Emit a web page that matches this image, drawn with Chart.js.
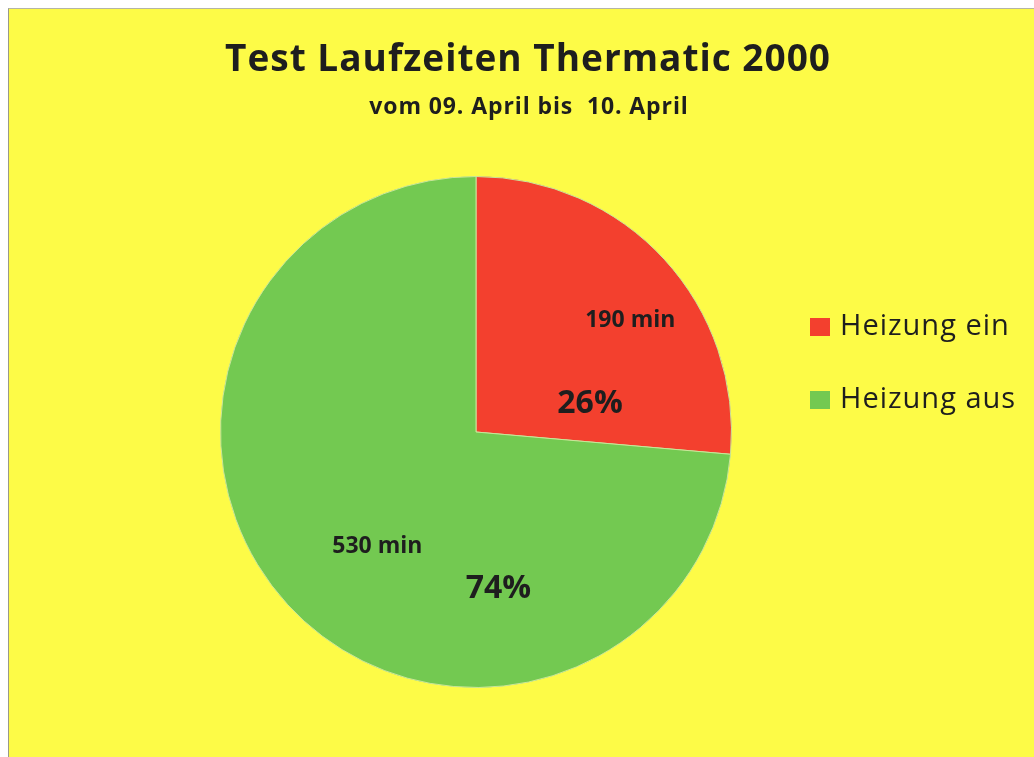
<!DOCTYPE html>
<html>
<head>
<meta charset="utf-8">
<script src="https://cdn.jsdelivr.net/npm/chart.js@4.4.1/dist/chart.umd.min.js"></script>
<style>
  html, body { margin: 0; padding: 0; background: #ffffff; }
  #frame {
    position: absolute; left: 8px; top: 8px; width: 1026px; height: 749px;
    background: #fdfb47; border-left: 1px solid #9a9a8a; border-top: 1px solid #b5b5a5;
  }
  #wrap { position: absolute; left: 0; top: 0; width: 1034px; height: 757px; }
</style>
</head>
<body>
<div id="frame"></div>
<div id="wrap"><canvas id="chart" width="1034" height="757"></canvas></div>
<script>
// Daten
const labels = ['Heizung ein', 'Heizung aus'];
const minutes = [190, 530];
const colors = ['#f3402e', '#73c951'];
const titleText = 'Test Laufzeiten Thermatic 2000';
const subtitleText = 'vom 09. April bis  10. April';

const FONT = '"Open Sans", Calibri, "DejaVu Sans", sans-serif';
const total = minutes.reduce((a, b) => a + b, 0);

// Kopfzeile
const headerPlugin = {
    id: 'header',
    afterDraw(chart) {
        const ctx = chart.ctx;
        ctx.save();
        ctx.fillStyle = '#1e1e1e';
        ctx.textAlign = 'center';
        ctx.textBaseline = 'alphabetic';
        ctx.font = 'bold 37px ' + FONT;
        ctx.letterSpacing = '1px';
        ctx.fillText(titleText, 528, 71);
        ctx.font = 'bold 23px ' + FONT;
        ctx.letterSpacing = '0.9px';
        ctx.fillText(subtitleText, 529, 114);
        ctx.restore();
    }
};

// Legende rechts
const legendPlugin = {
    id: 'sideLegend',
    afterDraw(chart) {
        const ctx = chart.ctx;
        const ds = chart.data.datasets[0];
        ctx.save();
        ctx.font = '29px ' + FONT;
        ctx.letterSpacing = '1px';
        ctx.textBaseline = 'middle';
        chart.data.labels.forEach((lab, i) => {
            const y = 327 + i * 73;
            ctx.fillStyle = ds.backgroundColor[i];
            ctx.fillRect(810, y - 9, 20, 18);
            ctx.fillStyle = '#1e1e1e';
            ctx.fillText(lab, 840, y);
        });
        ctx.restore();
    }
};

// Beschriftungen in den Segmenten
const labelPos = [
    { minF: 0.57, minR: 0.745, pctF: 0.80, pctR: 0.46 },
    { minF: 0.475, minR: 0.59, pctF: 0.29, pctR: 0.62 }
];
const sliceLabels = {
    id: 'sliceLabels',
    afterDatasetsDraw(chart) {
        const ctx = chart.ctx;
        const meta = chart.getDatasetMeta(0);
        ctx.save();
        ctx.fillStyle = '#1e1e1e';
        ctx.textAlign = 'center';
        ctx.textBaseline = 'middle';
        meta.data.forEach((arc, i) => {
            const p = labelPos[i];
            const span = arc.endAngle - arc.startAngle;
            const a1 = arc.startAngle + span * p.minF;
            const a2 = arc.startAngle + span * p.pctF;
            ctx.font = 'bold 23px ' + FONT;
            ctx.fillText(minutes[i] + ' min', arc.x + Math.cos(a1) * arc.outerRadius * p.minR, arc.y + Math.sin(a1) * arc.outerRadius * p.minR);
            ctx.font = 'bold 32px ' + FONT;
            const pct = Math.round(minutes[i] / total * 100) + '%';
            ctx.fillText(pct, arc.x + Math.cos(a2) * arc.outerRadius * p.pctR, arc.y + Math.sin(a2) * arc.outerRadius * p.pctR);
        });
        ctx.restore();
    }
};

new Chart(document.getElementById('chart'), {
    type: 'pie',
    data: {
        labels: labels,
        datasets: [{
            data: minutes,
            backgroundColor: colors,
            borderColor: '#c9e59a',
            borderWidth: 1
        }]
    },
    options: {
        responsive: false,
        animation: false,
        layout: { padding: { top: 176, bottom: 69, left: 220, right: 302 } },
        plugins: {
            legend: { display: false },
            title: { display: false },
            tooltip: { enabled: false }
        }
    },
    plugins: [headerPlugin, legendPlugin, sliceLabels]
});
</script>
</body>
</html>
